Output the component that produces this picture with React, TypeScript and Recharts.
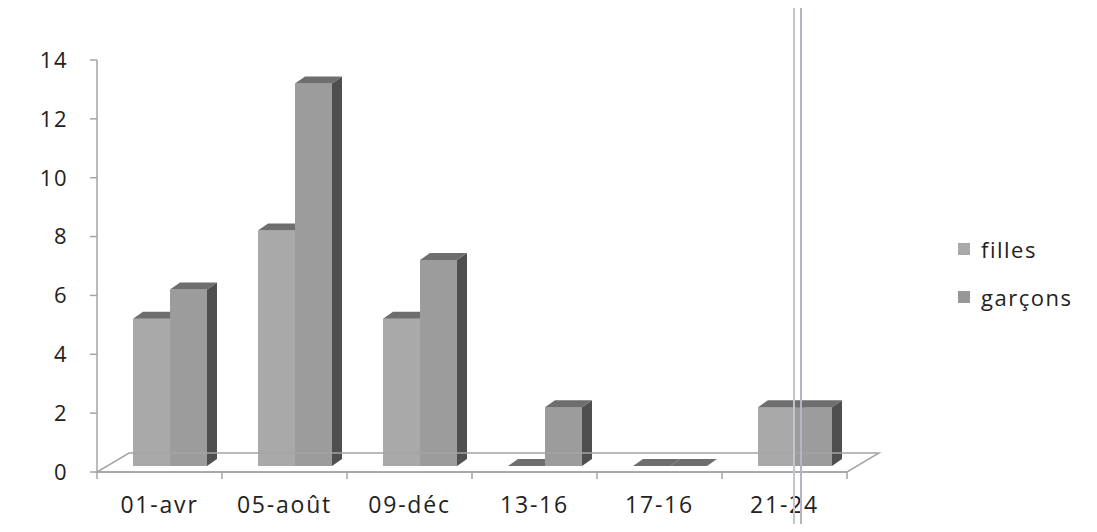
import React from "react";
import { BarChart, Bar, XAxis, YAxis, ReferenceLine } from "recharts";

const categories = ["01-avr", "05-août", "09-déc", "13-16", "17-16", "21-24"];
const filles = [5, 8, 5, 0, 0, 2];
const garcons = [6, 13, 7, 2, 0, 2];
const yTicks = [0, 2, 4, 6, 8, 10, 12, 14];

const data = categories.map((name, i) => ({ name, filles: filles[i], garcons: garcons[i] }));

const FONT = "'Open Sans', 'DejaVu Sans', sans-serif";
const AXIS = "#a4a4a8";
const DEPTH_X = 10;
const DEPTH_Y = 7;
const SHIFT_X = 10;
const SHIFT_Y = 6;
const BAND = 125;

// 3D column: front face, darker top and side faces
const Box = (props: any) => {
  const { x, y, width, height, fill } = props;
  const bx = x + SHIFT_X;
  const by = y - SHIFT_Y;
  const w = width;
  const h = Math.max(height, 0);
  const top = `${bx},${by} ${bx + w},${by} ${bx + w + DEPTH_X},${by - DEPTH_Y} ${bx + DEPTH_X},${by - DEPTH_Y}`;
  const side = `${bx + w},${by} ${bx + w + DEPTH_X},${by - DEPTH_Y} ${bx + w + DEPTH_X},${by + h - DEPTH_Y} ${bx + w},${by + h}`;
  return (
    <g>
      {h > 0 && <rect x={bx} y={by} width={w} height={h} fill={fill} />}
      {h > 0 && <polygon points={side} fill="#4f4f4f" />}
      <polygon points={top} fill="#6e6e6e" />
    </g>
  );
};

// floor plane drawn from the zero line
const Floor = (props: any) => {
  const { x1, y1, x2, y2 } = props;
  const dx = 32;
  const dy = 19;
  const pts = `${x1},${y1} ${x2},${y2} ${x2 + dx},${y2 - dy} ${x1 + dx},${y1 - dy}`;
  return <polygon points={pts} fill="none" stroke={AXIS} strokeWidth={1.5} />;
};

const CategoryTick = (props: any) => {
  const { x, y, payload, index } = props;
  return (
    <g>
      <line x1={x - BAND / 2} y1={y} x2={x - BAND / 2} y2={y + 7} stroke={AXIS} strokeWidth={1.5} />
      {index === categories.length - 1 && (
        <line x1={x + BAND / 2} y1={y} x2={x + BAND / 2} y2={y + 7} stroke={AXIS} strokeWidth={1.5} />
      )}
      <text x={x} y={y + 41} textAnchor="middle" fontSize={23} letterSpacing={1.8} fontFamily={FONT} fill="#222">
        {payload.value}
      </text>
    </g>
  );
};

const legendItems = [
  { label: "filles", color: "#a9a9a9" },
  { label: "garçons", color: "#979797" },
];

export default function App() {
  return (
    <div style={{ position: "relative", width: 1097, height: 532, margin: -8, background: "#fff", overflow: "hidden" }}>
      <div style={{ position: "absolute", left: 7, top: 5, right: 0, bottom: 0, borderTop: "1.5px solid #9a9a9a", borderLeft: "1.5px solid #9a9a9a" }} />
      <BarChart
        width={1097}
        height={532}
        data={data}
        margin={{ top: 60, right: 250, bottom: 20, left: 0 }}
        barSize={37}
        barGap={0}
      >
        <XAxis
          dataKey="name"
          axisLine={{ stroke: AXIS, strokeWidth: 1.5 }}
          tickLine={false}
          tickSize={0}
          tickMargin={0}
          height={40}
          interval={0}
          tick={<CategoryTick />}
        />
        <YAxis
          domain={[0, 14]}
          ticks={yTicks}
          width={97}
          axisLine={{ stroke: AXIS, strokeWidth: 1.5 }}
          tickLine={{ stroke: AXIS, strokeWidth: 1.5 }}
          tickSize={7}
          tickMargin={22}
          tick={{ fontSize: 22, fontFamily: FONT, fill: "#222", letterSpacing: 1.5 }}
        />
        <ReferenceLine y={0} shape={<Floor />} ifOverflow="visible" />
        <Bar dataKey="filles" name="filles" fill="#a9a9a9" shape={<Box />} isAnimationActive={false} />
        <Bar dataKey="garcons" name="garçons" fill="#9c9c9c" shape={<Box />} isAnimationActive={false} />
      </BarChart>
      <div style={{ position: "absolute", left: 958, top: 236, fontFamily: FONT, fontSize: 22, letterSpacing: 1.5, color: "#222", lineHeight: "26px" }}>
        {legendItems.map((it, i) => (
          <div key={it.label} style={{ display: "flex", alignItems: "center", marginBottom: i === 0 ? 22 : 0 }}>
            <span style={{ width: 12, height: 12, background: it.color, marginRight: 11, display: "inline-block" }} />
            {it.label}
          </div>
        ))}
      </div>
      {/* faint double vertical line */}
      <div style={{ position: "absolute", left: 793, top: 0, width: 2, height: 532, background: "#c4c4d0" }} />
      <div style={{ position: "absolute", left: 800, top: 0, width: 2, height: 532, background: "#b4b4c2" }} />
    </div>
  );
}
